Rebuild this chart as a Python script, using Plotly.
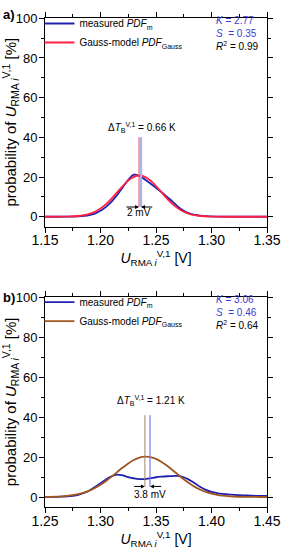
import plotly.graph_objects as go

# ---------------- data ----------------
# panel a
xa_meas = [1.150, 1.160, 1.170, 1.180, 1.185, 1.190, 1.195, 1.200, 1.205, 1.210, 1.215, 1.220,
           1.225, 1.230, 1.235, 1.240, 1.245, 1.250, 1.255, 1.260, 1.265, 1.270, 1.275, 1.280,
           1.285, 1.290, 1.295, 1.300, 1.310, 1.320, 1.350]
ya_meas = [0.0, 0.0, 0.05, 0.2, 0.4, 0.8, 1.6, 3.0, 5.0, 7.6, 11.0, 14.8,
           18.6, 21.2, 20.6, 18.8, 16.8, 14.6, 12.4, 10.0, 7.6, 5.0, 3.0, 1.7,
           1.0, 0.6, 0.35, 0.2, 0.05, 0.0, 0.0]
xa_gauss = [1.150, 1.160, 1.170, 1.180, 1.185, 1.190, 1.195, 1.200, 1.205, 1.210, 1.215, 1.220,
            1.225, 1.230, 1.235, 1.240, 1.245, 1.250, 1.255, 1.260, 1.265, 1.270, 1.275, 1.280,
            1.285, 1.290, 1.300, 1.310, 1.320, 1.350]
ya_gauss = [0.0, 0.01, 0.08, 0.39, 0.78, 1.45, 2.54, 4.15, 6.37, 9.14, 12.29, 15.47,
            18.24, 20.13, 20.8, 20.13, 18.24, 15.47, 12.29, 9.14, 6.37, 4.15, 2.54, 1.45,
            0.78, 0.39, 0.08, 0.01, 0.0, 0.0]
peaks_a = [1.2347, 1.2365]          # peak positions (Gauss, measured)
marker_span = [4.9, 40.0]           # vertical extent of peak markers [%]
label_a_dT = "Δ<i>T</i><sub>B</sub><sup>V,1</sup> = 0.66 K"
label_a_dU = "2 mV"
stats_a = ["2.77", "0.35", "0.99"]

# panel b
xb = [1.250, 1.255, 1.260, 1.265, 1.270, 1.275, 1.280, 1.285, 1.290, 1.295, 1.300, 1.305,
      1.310, 1.315, 1.320, 1.325, 1.330, 1.335, 1.340, 1.345, 1.350, 1.355, 1.360, 1.365,
      1.370, 1.375, 1.380, 1.385, 1.390, 1.395, 1.400, 1.405, 1.410, 1.415, 1.420, 1.425,
      1.430, 1.435, 1.440, 1.445, 1.450]
yb_meas = [0.05, 0.05, 0.1, 0.15, 0.3, 0.6, 1.1, 2.0, 3.3, 5.0, 6.9, 8.8,
           10.4, 11.2, 10.8, 10.0, 9.4, 9.0, 9.0, 9.4, 9.9, 10.2, 10.4, 10.5,
           10.6, 9.9, 8.6, 6.9, 5.0, 3.6, 2.6, 2.0, 1.6, 1.3, 1.1, 0.9,
           0.8, 0.7, 0.6, 0.55, 0.5]
yb_gauss = [0.06, 0.10, 0.19, 0.33, 0.56, 0.91, 1.43, 2.17, 3.17, 4.48, 6.10, 8.03,
            10.19, 12.49, 14.76, 16.83, 18.53, 19.69, 20.19, 19.97, 19.07, 17.57, 15.62, 13.40,
            11.10, 8.87, 6.84, 5.09, 3.66, 2.53, 1.69, 1.09, 0.68, 0.41, 0.24, 0.13,
            0.07, 0.04, 0.02, 0.01, 0.0]
peaks_b = [1.3400, 1.3446]
marker_span_b = [5.3, 41.0]
label_b_dT = "Δ<i>T</i><sub>B</sub><sup>V,1</sup> = 1.21 K"
label_b_dU = "3.8 mV"
stats_b = ["3.06", "0.46", "0.64"]

xticks_a = [1.15, 1.20, 1.25, 1.30, 1.35]
xticks_b = [1.25, 1.30, 1.35, 1.40, 1.45]
yticks = [0, 20, 40, 60, 80, 100]

# ---------------- style ----------------
FONT = "Arial, Liberation Sans, sans-serif"
BLUE = "#2020b0"
RED = "#ff1f45"
BROWN = "#a0561f"

fig = go.Figure()

# panel a
fig.add_trace(go.Scatter(x=xa_meas, y=ya_meas, mode="lines", line=dict(color=BLUE, width=1.8, shape="spline"),
                         name="measured <i>PDF</i><sub>m</sub>", xaxis="x", yaxis="y", legend="legend"))
fig.add_trace(go.Scatter(x=xa_gauss, y=ya_gauss, mode="lines", line=dict(color=RED, width=1.8, shape="spline"),
                         name="Gauss-model <i>PDF</i><sub>Gauss</sub>", xaxis="x", yaxis="y", legend="legend"))
fig.add_trace(go.Scatter(x=[peaks_a[1]] * 2, y=marker_span, mode="lines", line=dict(color="#aeb0ea", width=2.2),
                         showlegend=False, xaxis="x", yaxis="y", hoverinfo="skip"))
fig.add_trace(go.Scatter(x=[peaks_a[0]] * 2, y=marker_span, mode="lines", line=dict(color="#e0506a", width=1),
                         showlegend=False, xaxis="x", yaxis="y", hoverinfo="skip"))

# panel b
fig.add_trace(go.Scatter(x=xb, y=yb_meas, mode="lines", line=dict(color=BLUE, width=1.8, shape="spline"),
                         name="measured <i>PDF</i><sub>m</sub>", xaxis="x2", yaxis="y2", legend="legend2"))
fig.add_trace(go.Scatter(x=xb, y=yb_gauss, mode="lines", line=dict(color=BROWN, width=1.8, shape="spline"),
                         name="Gauss-model <i>PDF</i><sub>Gauss</sub>", xaxis="x2", yaxis="y2", legend="legend2"))
fig.add_trace(go.Scatter(x=[peaks_b[0]] * 2, y=marker_span_b, mode="lines", line=dict(color="#a08870", width=1),
                         showlegend=False, xaxis="x2", yaxis="y2", hoverinfo="skip"))
fig.add_trace(go.Scatter(x=[peaks_b[1]] * 2, y=marker_span_b, mode="lines", line=dict(color="#7a7ae6", width=1.2),
                         showlegend=False, xaxis="x2", yaxis="y2", hoverinfo="skip"))

ytitle = "probability of <i>U</i><sub>RMA <i>i</i></sub><sup>V,1</sup> [%]"
xtitle = "<i>U</i><sub>RMA <i>i</i></sub><sup>V,1</sup> [V]"


def xax(rng, ticks, anchor):
    return dict(range=rng, tickvals=ticks, ticktext=[f"{t:.2f}" for t in ticks],
                ticks="outside", ticklen=5, tickwidth=1, tickcolor="black", ticklabelstandoff=-4,
                minor=dict(dtick=0.025, tick0=rng[0], ticks="outside", ticklen=3, tickcolor="black"),
                showline=True, linecolor="black", linewidth=1, mirror="allticks",
                showgrid=False, zeroline=False, tickfont=dict(family=FONT, size=14, color="black"),
                anchor=anchor, automargin=False,
                title=dict(text=xtitle, font=dict(family=FONT, size=14, color="black"), standoff=2))


def yax(domain, anchor):
    return dict(range=[-5, 100.3], domain=domain, tickvals=yticks, ticks="outside", ticklen=5,
                tickcolor="black", minor=dict(dtick=10, tick0=0, ticks="outside", ticklen=3, tickcolor="black"),
                showline=True, linecolor="black", linewidth=1, mirror="allticks", ticklabelstandoff=-1,
                showgrid=False, zeroline=False, tickfont=dict(family=FONT, size=13, color="black"),
                anchor=anchor, automargin=False,
                title=dict(text=ytitle, font=dict(family=FONT, size=15, color="black"), standoff=1))


legend_common = dict(font=dict(family=FONT, size=10, color="black"), bgcolor="rgba(0,0,0,0)",
                     borderwidth=0, xanchor="left", yanchor="top", itemwidth=30, tracegroupgap=0)

# plot area spans y = 5 .. 507 px (height 502)
fig.update_layout(
    template="none",
    width=283, height=550,
    margin=dict(l=45, r=16, t=5, b=43),
    paper_bgcolor="white", plot_bgcolor="white",
    font=dict(family=FONT, color="black"),
    xaxis=xax([1.15, 1.35], xticks_a, "y"),
    yaxis=yax([0.5584, 0.9747], "x"),
    xaxis2=xax([1.25, 1.45], xticks_b, "y2"),
    yaxis2=yax([0.0, 0.4189], "x2"),
    legend=dict(x=-0.025, y=0.992, **legend_common),
    legend2=dict(x=-0.025, y=0.437, **legend_common),
    showlegend=True,
)


def stats_text(v):
    return (f"<span style='color:#3a3ad0'><i>K</i> = {v[0]}</span><br>"
            f"<span style='color:#3a3ad0'><i>S</i>  = {v[1]}</span><br>"
            f"<i>R</i><sup>2</sup> = {v[2]}")


ann = []
# panel labels
ann.append(dict(text="<b>a)</b>", x=-0.162, y=0.981, xref="paper", yref="paper", showarrow=False,
                font=dict(family=FONT, size=13), xanchor="center", yanchor="middle"))
ann.append(dict(text="<b>b)</b>", x=-0.162, y=0.418, xref="paper", yref="paper", showarrow=False,
                font=dict(family=FONT, size=13), xanchor="center", yanchor="middle"))
# stats
ann.append(dict(text=stats_text(stats_a), x=0.76, y=0.985, xref="paper", yref="paper", showarrow=False,
                align="left", xanchor="left", yanchor="top", font=dict(family=FONT, size=10)))
ann.append(dict(text=stats_text(stats_b), x=0.76, y=0.429, xref="paper", yref="paper", showarrow=False,
                align="left", xanchor="left", yanchor="top", font=dict(family=FONT, size=10)))
# delta T labels
ann.append(dict(text=label_a_dT, x=1.2375, y=45, xref="x", yref="y", showarrow=False,
                font=dict(family=FONT, size=10)))
ann.append(dict(text=label_b_dT, x=1.3455, y=48.5, xref="x2", yref="y2", showarrow=False,
                font=dict(family=FONT, size=10)))
# delta U labels
ann.append(dict(text=label_a_dU, x=1.2347, y=2.2, xref="x", yref="y", showarrow=False,
                font=dict(family=FONT, size=10)))
ann.append(dict(text=label_b_dU, x=1.3446, y=1.3, xref="x2", yref="y2", showarrow=False,
                font=dict(family=FONT, size=10)))


def arrow(xh, xt, y, xr, yr):
    return dict(x=xh, y=y, ax=xt, ay=y, xref=xr, yref=yr, axref=xr, ayref=yr, text="",
                showarrow=True, arrowhead=2, arrowsize=0.8, arrowwidth=1, arrowcolor="black", standoff=0)


ann.append(arrow(peaks_a[0], 1.222, marker_span[0], "x", "y"))
ann.append(arrow(peaks_a[1], 1.248, marker_span[0], "x", "y"))
ann.append(arrow(peaks_b[0], 1.329, marker_span_b[0], "x2", "y2"))
ann.append(arrow(peaks_b[1], 1.356, marker_span_b[0], "x2", "y2"))

fig.update_layout(annotations=ann)

# remove the browser's default 8px page margin so the figure sits at the window origin
fig.write_html("out.html", config={"displayModeBar": False},
               post_script="document.body.style.margin='0';")
